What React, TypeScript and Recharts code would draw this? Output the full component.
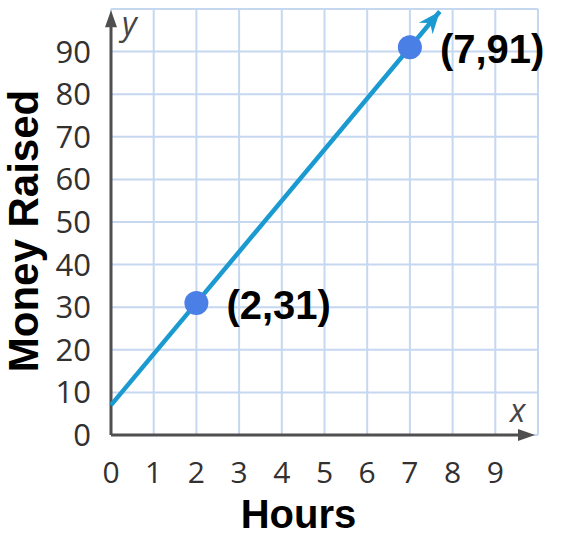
import React from "react";
import {
  ComposedChart, Line, Scatter, XAxis, YAxis, CartesianGrid, ReferenceLine,
} from "recharts";

// grid / tick values
const xTicks = [0, 1, 2, 3, 4, 5, 6, 7, 8, 9, 10];
const yTicks = [0, 10, 20, 30, 40, 50, 60, 70, 80, 90, 100];

// the drawn line (y = 12x + 7) up to its arrow tip
const lineX = [0, 7.7];
const lineY = [7, 99.4];

// labelled points
const pointX = [2, 7];
const pointY = [31, 91];
const pointLabels = ["(2,31)", "(7,91)"];

// axis arrow tips
const xAxisTip = 9.93;
const yAxisTip = 99.7;

const lineData = lineX.map((x, i) => ({ x, y: lineY[i] }));
const pointData = pointX.map((x, i) => ({ x, y: pointY[i], label: pointLabels[i] }));

const AXIS = "#4f4f4f";
const GRID = "#c6d7f0";
const LINE = "#1a9ad0";
const DOT = "#4a7fe6";
const TICK = "#333030";

function arrowHead(x1: number, y1: number, x2: number, y2: number, len: number, half: number, notch: number) {
  const a = Math.atan2(y2 - y1, x2 - x1);
  const c = Math.cos(a), s = Math.sin(a);
  const bx = x2 - len * c, by = y2 - len * s;
  const nx = x2 - (len - notch) * c, ny = y2 - (len - notch) * s;
  return `${x2},${y2} ${bx - half * s},${by + half * c} ${nx},${ny} ${bx + half * s},${by - half * c}`;
}

const axisArrow = (letter: string) => (p: any) => {
  const { x1, y1, x2, y2 } = p;
  const a = Math.atan2(y2 - y1, x2 - x1);
  const ex = x2 - 12 * Math.cos(a), ey = y2 - 12 * Math.sin(a);
  const isY = letter === "y";
  return (
    <g>
      <line x1={x1} y1={y1} x2={ex} y2={ey} stroke={AXIS} strokeWidth={3} />
      <polygon points={arrowHead(x1, y1, x2, y2, 17, 6, 0)} fill={AXIS} />
      <text
        x={isY ? x2 + 11 : x2 - 25}
        y={isY ? y2 + 25 : y2 - 13}
        fontFamily="Open Sans" fontStyle="italic" fontSize={32} fill="#454545"
      >{letter}</text>
    </g>
  );
};

const lineArrow = (p: any) => {
  const { x1, y1, x2, y2 } = p;
  return <polygon points={arrowHead(x1, y1, x2, y2, 22, 9, 7)} fill={LINE} />;
};

const PointShape = (p: any) => (
  <g>
    <circle cx={p.cx} cy={p.cy} r={12} fill={DOT} />
    <text x={p.cx + 30} y={p.cy + 16} fontFamily="Liberation Sans, Arial" fontWeight="bold" fontSize={40} fill="#000">
      {p.payload.label}
    </text>
  </g>
);

export default function App() {
  return (
    <div style={{ position: "absolute", left: 0, top: 0, background: "#fff" }}>
      <ComposedChart width={562} height={542} margin={{ top: 9, right: 24, bottom: 0, left: 0 }}>
        <CartesianGrid stroke={GRID} strokeWidth={2} />
        <XAxis
          dataKey="x" type="number" domain={[0, 10]} ticks={xTicks} interval={0}
          axisLine={false} tickLine={false} tickSize={0} tickMargin={27} height={107}
          tickFormatter={(v) => (v === 10 ? "" : String(v))}
          tick={{ fill: TICK, fontSize: 30, fontFamily: "Open Sans" }}
          label={{
            content: (p: any) => (
              <text x={p.viewBox.x + p.viewBox.width / 2 - 26} y={528} textAnchor="middle"
                fontFamily="Liberation Sans, Arial" fontWeight="bold" fontSize={40} fill="#000">Hours</text>
            ),
          }}
        />
        <YAxis
          dataKey="y" type="number" domain={[0, 100]} ticks={yTicks} interval={0}
          axisLine={false} tickLine={false} tickSize={0} tickMargin={20} width={111}
          tickFormatter={(v) => (v === 100 ? "" : String(v))}
          tick={{ fill: TICK, fontSize: 31, fontFamily: "Open Sans" }}
          label={{
            content: (p: any) => {
              const cy = p.viewBox.y + p.viewBox.height / 2 + 9;
              return (
                <text x={38} y={cy} transform={`rotate(-90 38 ${cy})`} textAnchor="middle"
                  fontFamily="Liberation Sans, Arial" fontWeight="bold" fontSize={42} fill="#000">Money Raised</text>
              );
            },
          }}
        />
        <ReferenceLine segment={[{ x: 0, y: 0 }, { x: xAxisTip, y: 0 }]} shape={axisArrow("x")} />
        <ReferenceLine segment={[{ x: 0, y: 0 }, { x: 0, y: yAxisTip }]} shape={axisArrow("y")} />
        <Line data={lineData} dataKey="y" stroke={LINE} strokeWidth={4.5} dot={false} activeDot={false} isAnimationActive={false} />
        <ReferenceLine segment={[lineData[0], lineData[lineData.length - 1]]} shape={lineArrow} />
        <Scatter data={pointData} dataKey="y" shape={PointShape} isAnimationActive={false} />
      </ComposedChart>
    </div>
  );
}
